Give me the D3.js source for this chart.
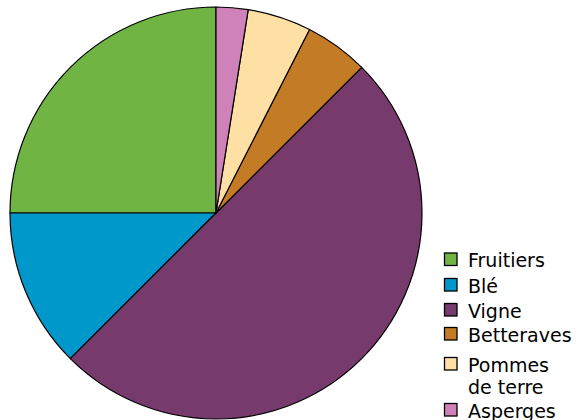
<!DOCTYPE html>
<html>
<head>
<meta charset="utf-8">
<script src="https://cdn.jsdelivr.net/npm/d3@7"></script>
<style>
  html, body { margin: 0; padding: 0; background: #fff; }
  text { font-family: "DejaVu Sans", sans-serif; }
</style>
</head>
<body>
<div id="chart"></div>
<script>
// Crop shares (%) - drawn counter-clockwise from 12 o'clock
const categories = ["Fruitiers", "Blé", "Vigne", "Betteraves", "Pommes de terre", "Asperges"];
const values = [25, 12.5, 50, 5, 5, 2.5];
const colors = ["#70b443", "#0098cb", "#773a6d", "#c47b25", "#fee0a5", "#cf82ba"];
const legendLines = [["Fruitiers"], ["Blé"], ["Vigne"], ["Betteraves"], ["Pommes", "de terre"], ["Asperges"]];

const width = 586, height = 420;
const cx = 216, cy = 213, radius = 206;

const svg = d3.select("#chart")
    .append("svg")
    .attr("width", width)
    .attr("height", height);

const data = categories.map((c, i) => ({name: c, value: values[i], color: colors[i]}));

const pie = d3.pie()
    .value(d => d.value)
    .sort(null)
    .startAngle(0)
    .endAngle(-2 * Math.PI);

const arc = d3.arc()
    .innerRadius(0)
    .outerRadius(radius);

const g = svg.append("g")
    .attr("transform", `translate(${cx},${cy})`);

g.selectAll("path")
    .data(pie(data))
    .enter()
    .append("path")
    .attr("d", arc)
    .attr("fill", d => d.data.color)
    .attr("stroke", "#000")
    .attr("stroke-width", 1.2)
    .attr("stroke-linejoin", "round");

// Legend
const rowTop = [252.5, 278, 303, 327, 357, 403];

const legend = svg.append("g")
    .attr("class", "legend");

const items = legend.selectAll("g")
    .data(data)
    .enter()
    .append("g")
    .attr("transform", (d, i) => `translate(444,${rowTop[i]})`);

items.append("rect")
    .attr("x", 0.5)
    .attr("y", 0.5)
    .attr("width", 12.5)
    .attr("height", 12.5)
    .attr("fill", d => d.color)
    .attr("stroke", "#000")
    .attr("stroke-width", 1.3);

items.append("text")
    .attr("x", 24)
    .attr("y", 14.5)
    .attr("font-size", 19)
    .attr("fill", "#000")
    .each(function(d, i) {
        d3.select(this).selectAll("tspan")
            .data(legendLines[i])
            .enter()
            .append("tspan")
            .attr("x", 24)
            .attr("dy", (t, j) => j === 0 ? 0 : 22)
            .text(t => t);
    });
</script>
</body>
</html>
